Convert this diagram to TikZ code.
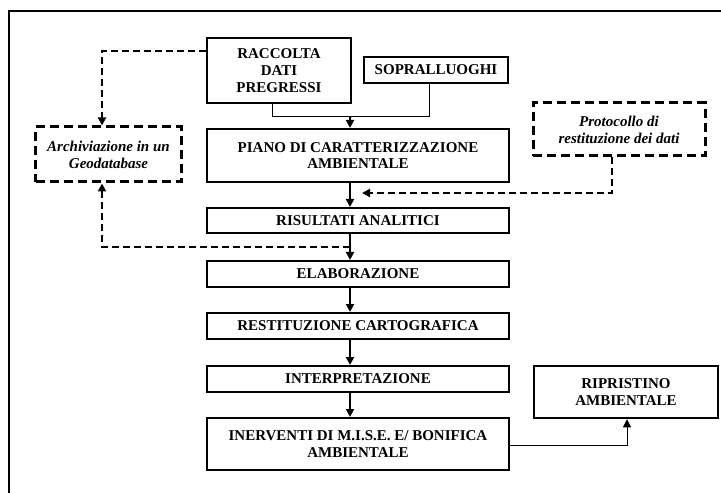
\documentclass[tikz,border=0pt]{standalone}
\usepackage{fontspec}
\setmainfont{Liberation Serif}
\usetikzlibrary{arrows.meta}
\begin{document}
\begin{tikzpicture}[x=1bp,y=-1bp,
  box/.style={draw,line width=2bp,rectangle,inner sep=0pt,align=center,
    font=\fontsize{15bp}{16.8bp}\selectfont\bfseries},
  dbox/.style={draw,line width=3bp,dash pattern=on 9bp off 5bp,rectangle,inner sep=0pt,align=center,
    font=\fontsize{15bp}{16.8bp}\selectfont\bfseries\itshape},
  tip/.style={-{Triangle[width=8bp,length=8bp]}},
  mainarr/.style={tip,line width=2bp},
  thinline/.style={line width=1bp},
  dline/.style={line width=2bp,dash pattern=on 7bp off 4bp}]
\useasboundingbox (0,0) rectangle (721,493);
% frame
\draw[line width=2bp] (9,493) -- (9,11) -- (721,11);
% nodes
\node[box,minimum width=144bp,minimum height=65bp] (raccolta) at (279,70.5) {RACCOLTA\\DATI\\PREGRESSI};
\node[box,minimum width=144bp,minimum height=26bp] (sopra) at (436,70) {SOPRALLUOGHI};
\node[box,minimum width=302bp,minimum height=53bp] (piano) at (358,155.5) {PIANO DI CARATTERIZZAZIONE\\AMBIENTALE};
\node[box,minimum width=302bp,minimum height=25bp] (risultati) at (358,220.5) {RISULTATI ANALITICI};
\node[box,minimum width=302bp,minimum height=26bp] (elab) at (358,274) {ELABORAZIONE};
\node[box,minimum width=302bp,minimum height=26bp] (restit) at (358,326) {RESTITUZIONE CARTOGRAFICA};
\node[box,minimum width=302bp,minimum height=26bp] (interp) at (358,379) {INTERPRETAZIONE};
\node[box,minimum width=302bp,minimum height=52bp] (inerv) at (358,444) {INERVENTI DI M.I.S.E. E/ BONIFICA\\AMBIENTALE};
\node[box,line width=2.5bp,minimum width=184bp,minimum height=52bp] (ripr) at (626,392) {RIPRISTINO\\AMBIENTALE};
\node[dbox,minimum width=145bp,minimum height=55bp] (archiv) at (108.5,154.5) {Archiviazione in un\\Geodatabase};
\node[dbox,minimum width=172bp,minimum height=53bp] (proto) at (619,129.5) {Protocollo di\\restituzione dei dati};
% junction coordinates
\coordinate (j1) at (429,117);
\coordinate (m1) at (350,117);
\coordinate (m2) at (350,247);
\coordinate (p3) at (362,193);
% solid connectors
\draw[thinline] ([xshift=-7bp]raccolta.south) |- (j1);
\draw[thinline] (sopra.south -| j1) -- (j1);
\draw[mainarr] (m1) -- ([xshift=-8bp]piano.north);
\draw[mainarr] ([xshift=-8bp]piano.south) -- ([xshift=-8bp]risultati.north);
\draw[mainarr] ([xshift=-8bp]risultati.south) -- ([xshift=-8bp]elab.north);
\draw[mainarr] ([xshift=-8bp]elab.south) -- ([xshift=-8bp]restit.north);
\draw[mainarr] ([xshift=-8bp]restit.south) -- ([xshift=-8bp]interp.north);
\draw[mainarr] ([xshift=-8bp]interp.south) -- ([xshift=-8bp]inerv.north);
\draw[thinline,tip] ([yshift=-1bp]inerv.east) -| ([xshift=1bp]ripr.south);
% dashed connectors
\draw[dline,tip] ([yshift=19.5bp]raccolta.west) -| ([xshift=-6.5bp]archiv.north);
\draw[dline,tip] (m2) -| ([xshift=-6.5bp]archiv.south);
\draw[dline,tip] ([xshift=-7bp]proto.south) |- (p3);
\end{tikzpicture}
\end{document}
